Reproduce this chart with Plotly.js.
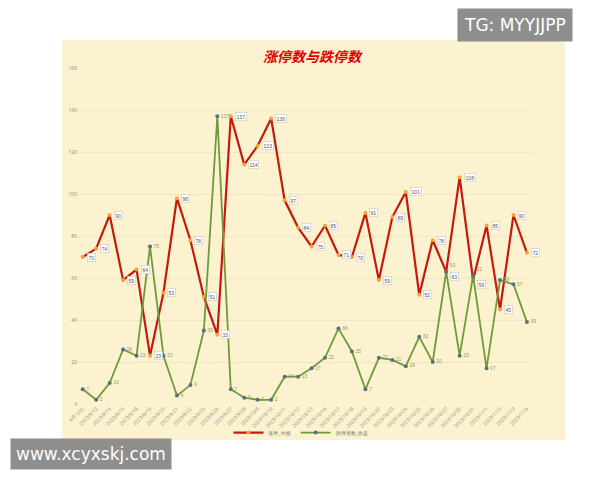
<!DOCTYPE html>
<html><head><meta charset="utf-8">
<script src="https://cdn.plot.ly/plotly-3.0.1.min.js"></script>
<style>body{margin:0;background:#fff}#chart{width:600px;height:480px}</style>
</head><body><div id="chart"></div>
<script>
const dates = ["9月12日","2023/9/13","2023/9/14","2023/9/15","2023/9/18","2023/9/19","2023/9/20","2023/9/21","2023/9/22","2023/9/25","2023/9/26","2023/9/27","2023/9/28","2023/10/9","2023/10/10","2023/10/11","2023/10/12","2023/10/13","2023/10/16","2023/10/17","2023/10/18","2023/10/19","2023/10/20","2023/10/23","2023/10/24","2023/10/25","2023/10/26","2023/10/27","2023/10/30","2023/10/31","2023/11/1","2023/11/2","2023/11/3","2023/11/6"];
const limitUp = [70,74,90,59,64,23,53,98,78,51,33,137,114,123,136,97,84,75,85,71,70,91,59,89,101,52,78,63,108,59,85,45,90,72];
const limitDown = [7,2,10,26,23,75,23,4,9,35,137,7,3,2,2,13,13,17,22,36,25,7,22,21,18,32,20,63,23,61,17,59,57,39];
const nameUp = "涨停_封板";
const nameDown = "跌停家数_收盘";
const titleText = "涨停数与跌停数";

const idx = dates.map((d,i)=>i);
const downTextPos = limitDown.map((v,i)=> Math.abs(v - limitUp[i]) < 5 ? 'top right' : 'middle right');
const traces = [
  {x: idx, y: limitUp, name: nameUp, type:'scatter', mode:'lines+markers',
   line:{color:'#c41a0e', width:2.2}, marker:{color:'#f2a43a', size:4}},
  {x: idx, y: limitDown, name: nameDown, type:'scatter', mode:'lines+markers+text',
   text: limitDown.map(String), textposition: downTextPos, cliponaxis:false,
   textfont:{size:5, color:'#8f9c62', family:'Liberation Sans'},
   line:{color:'#6f9a3c', width:1.8}, marker:{color:'#5a6f86', size:4}}
];

const ann = limitUp.map((v,i)=>({x:i, y:v, xref:'x', yref:'y', text:String(v), showarrow:false,
  xanchor:'left', yanchor: Math.abs(v - limitDown[i]) < 5 ? 'top' : 'middle', xshift:4,
  font:{size:5, color:'#555', family:'Liberation Sans'},
  bgcolor:'#ffffff', bordercolor:'#c8c8c8', borderwidth:0.6, borderpad:1}));
ann.push({xref:'paper', yref:'paper', x:0.9615, y:1.128, xanchor:'center', yanchor:'middle',
  text:'TG: MYYJJPP', showarrow:false, font:{size:17, color:'#ffffff', family:'DejaVu Sans'},
  bgcolor:'#8e8e8e', borderpad:6});
ann.push({xref:'paper', yref:'paper', x:0.029, y:-0.149, xanchor:'center', yanchor:'middle',
  text:'www.xcyxskj.com', showarrow:false, font:{size:17, color:'#ffffff', family:'DejaVu Sans'},
  bgcolor:'#8e8e8e', borderpad:5});

const layout = {
  width:600, height:480,
  margin:{l:78, r:67, t:68, b:76},
  paper_bgcolor:'#ffffff', plot_bgcolor:'rgba(0,0,0,0)',
  title:{text:titleText, x:0.52, y:0.881, xanchor:'center', yanchor:'middle',
    font:{family:'Noto Sans CJK SC', size:14, color:'#e00000', weight:'bold', style:'italic'}},
  shapes:[{type:'rect', xref:'paper', yref:'paper', x0:-0.0352, x1:1.0703, y0:-0.1071, y1:1.0833,
    fillcolor:'#fdf2cf', line:{width:0}, layer:'below'}],
  xaxis:{tickmode:'array', tickvals:idx, ticktext:dates, tickangle:-45, range:[-0.35,33.45],
    tickfont:{size:5, color:'#888'}, showgrid:false, zeroline:false, showline:false, ticks:''},
  yaxis:{range:[0,160], dtick:20, tickfont:{size:5, color:'#888'}, gridcolor:'#ece2bf', gridwidth:0.8,
    zeroline:false, showline:false, ticks:''},
  legend:{orientation:'h', x:0.49, y:-0.085, xanchor:'center', yanchor:'middle',
    font:{size:5, color:'#777'}, bgcolor:'rgba(0,0,0,0)'},
  annotations: ann
};
Plotly.newPlot('chart', traces, layout, {displayModeBar:false, staticPlot:true});
</script></body></html>
